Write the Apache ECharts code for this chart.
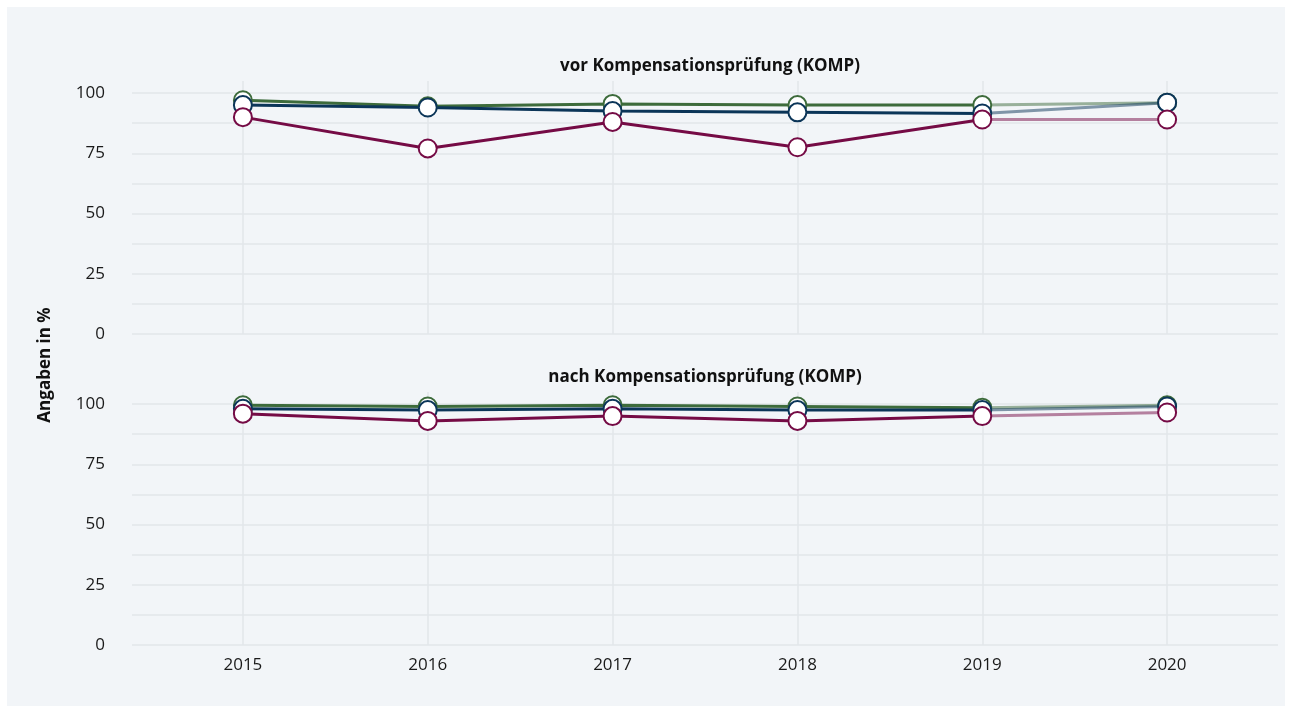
<!DOCTYPE html>
<html>
<head>
<meta charset="utf-8">
<script src="https://cdn.jsdelivr.net/npm/echarts@6/dist/echarts.min.js"></script>
<style>
html,body{margin:0;padding:0;background:#ffffff;}
#chart{position:absolute;left:7px;top:7px;width:1278px;height:699px;background:#f2f5f8;}
</style>
</head>
<body>
<div id="chart"></div>
<script>
var years = [2015, 2016, 2017, 2018, 2019, 2020];
var yTicks = [0, 12.5, 25, 37.5, 50, 62.5, 75, 87.5, 100];
var yLabels = [0, 25, 50, 75, 100];
var panelTitles = ['vor Kompensationsprüfung (KOMP)', 'nach Kompensationsprüfung (KOMP)'];
var yAxisName = 'Angaben in %';

var vorGreen  = [97, 94.5, 95.5, 95, 95, 96];
var vorNavy   = [95, 94, 92.5, 92, 91.5, 96];
var vorMaroon = [90, 77, 88, 77.5, 89, 89];

var nachGreen  = [99.5, 99, 99.5, 99, 98.5, 99.5];
var nachNavy   = [98, 97.5, 98, 97.5, 97.5, 99];
var nachMaroon = [96, 93, 95, 93, 95, 96.5];

var colors = ['#3d6b3b', '#0b3558', '#750b45'];
var FONT = '"Open Sans", "Noto Sans", sans-serif';

var chart = echarts.init(document.getElementById('chart'));

function makeSeries(values, color, gi) {
  var solid = [], faded = [];
  for (var i = 0; i < years.length; i++) {
    if (i <= 4) solid.push([years[i], values[i]]);
    if (i >= 4) faded.push(i === 4 ? {value: [years[i], values[i]], symbol: 'none'} : [years[i], values[i]]);
  }
  var common = {
    type: 'line', xAxisIndex: gi, yAxisIndex: gi, symbol: 'circle', symbolSize: 18,
    itemStyle: {color: '#ffffff', borderColor: color, borderWidth: 2},
    emphasis: {disabled: true}, animation: false
  };
  return [
    Object.assign({}, common, {data: faded, z: 2, lineStyle: {color: color, width: 3, opacity: 0.5}}),
    Object.assign({}, common, {data: solid, z: 3, lineStyle: {color: color, width: 3}})
  ];
}

var series = [];
[[vorGreen, vorNavy, vorMaroon], [nachGreen, nachNavy, nachMaroon]].forEach(function (grp, gi) {
  var fadedS = [], solidS = [];
  grp.forEach(function (vals, k) {
    var s = makeSeries(vals, colors[k], gi);
    fadedS.push(s[0]); solidS.push(s[1]);
  });
  series = series.concat(fadedS, solidS);
});

function xAxis(gi) {
  return {
    type: 'value', gridIndex: gi, min: 2014.4, max: 2020.6,
    axisLine: {show: false},
    axisTick: {show: false, customValues: years},
    axisLabel: {show: gi === 1, customValues: years, color: '#1a1a1a', fontSize: 17, fontFamily: FONT, margin: 12,
      formatter: function (v) { return String(v); }},
    splitLine: {show: true, lineStyle: {color: '#e2e6ea', width: 1.5}}
  };
}
function yAxis(gi) {
  return {
    type: 'value', gridIndex: gi, min: 0, max: 105,
    axisLine: {show: false},
    axisTick: {show: false, customValues: yTicks},
    axisLabel: {customValues: yLabels, color: '#1a1a1a', fontSize: 17, fontFamily: FONT, margin: 27},
    splitLine: {show: true, lineStyle: {color: '#e2e6ea', width: 1.5}}
  };
}

chart.setOption({
  animation: false,
  grid: [
    {left: 125, right: 7, top: 74, height: 253},
    {left: 125, right: 7, top: 385, height: 253}
  ],
  xAxis: [xAxis(0), xAxis(1)],
  yAxis: [yAxis(0), yAxis(1)],
  graphic: [
    {type: 'text', x: 703, y: 59, style: {text: panelTitles[0], fontSize: 17, fontWeight: 'bold', fontFamily: FONT, fill: '#111', align: 'center', verticalAlign: 'middle'}},
    {type: 'text', x: 698, y: 370, style: {text: panelTitles[1], fontSize: 17, fontWeight: 'bold', fontFamily: FONT, fill: '#111', align: 'center', verticalAlign: 'middle'}},
    {type: 'text', x: 38, y: 358, rotation: Math.PI / 2, style: {text: yAxisName, fontSize: 17, fontWeight: 'bold', fontFamily: FONT, fill: '#111', align: 'center', verticalAlign: 'middle'}}
  ],
  series: series
});
</script>
</body>
</html>
